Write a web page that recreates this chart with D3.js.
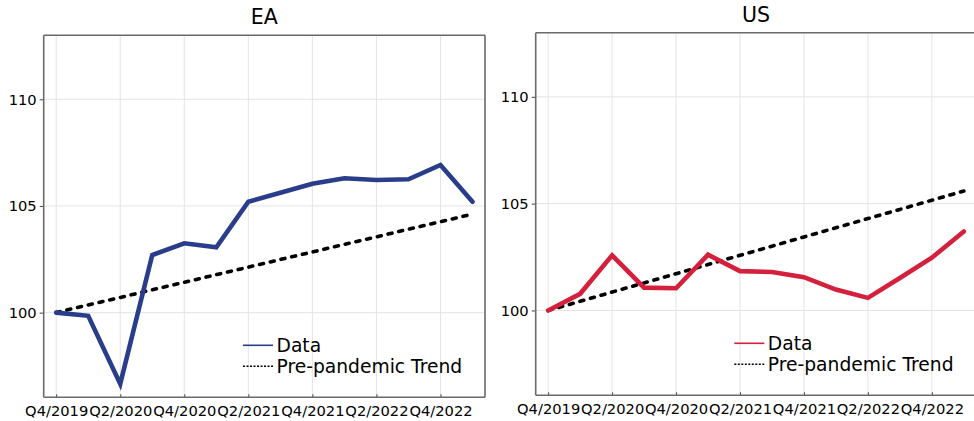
<!DOCTYPE html>
<html><head><meta charset="utf-8">
<script src="https://cdn.jsdelivr.net/npm/d3@7"></script>
<style>
body{margin:0;background:#fff}
svg{display:block;font-family:"DejaVu Sans",sans-serif}
</style>
</head><body>
<svg id="c" width="974" height="421"></svg>
<script>
// ---------- data ----------
const quarters = ["Q4/2019","Q1/2020","Q2/2020","Q3/2020","Q4/2020","Q1/2021","Q2/2021",
                  "Q3/2021","Q4/2021","Q1/2022","Q2/2022","Q3/2022","Q4/2022","Q1/2023"];
const xTickLabels = ["Q4/2019","Q2/2020","Q4/2020","Q2/2021","Q4/2021","Q2/2022","Q4/2022"];
const yTicks = [100, 105, 110];
const yLimits = [96.03, 113.0];
const panelTitles = ["EA", "US"];
const legendLabels = ["Data", "Pre-pandemic Trend"];

const eaData  = [100.00, 99.85, 96.66, 102.70, 103.25, 103.06, 105.20, 105.62, 106.04, 106.30, 106.22, 106.25, 106.92, 105.20];
const eaTrend = [100.00, 100.36, 100.71, 101.07, 101.42, 101.78, 102.13, 102.49, 102.84, 103.20, 103.55, 103.91, 104.26, 104.62];
const usData  = [100.00, 100.78, 102.58, 101.07, 101.04, 102.61, 101.84, 101.80, 101.56, 100.98, 100.59, 101.52, 102.47, 103.70];
const usTrend = [100.00, 100.43, 100.86, 101.29, 101.72, 102.15, 102.58, 103.01, 103.44, 103.87, 104.30, 104.73, 105.16, 105.59];

// ---------- drawing ----------
const svg = d3.select("#c");

function panel(cfg) {
  const {left, right, top, bottom, title, titleY, data, trend, color, boxRight} = cfg;
  const pad = (quarters.length - 1) * 0.03;
  const x = d3.scaleLinear().domain([-pad, quarters.length - 1 + pad]).range([left, right]);
  const y = d3.scaleLinear().domain(yLimits).range([bottom, top]);
  const g = svg.append("g");
  const xt = xTickLabels.map(l => quarters.indexOf(l));

  // grid
  g.append("g").selectAll("line").data(xt).join("line")
    .attr("x1", d => x(d)).attr("x2", d => x(d)).attr("y1", top).attr("y2", bottom)
    .attr("stroke", "#e4e4e4").attr("stroke-width", 1);
  g.append("g").selectAll("line").data(yTicks).join("line")
    .attr("x1", left).attr("x2", right).attr("y1", d => y(d)).attr("y2", d => y(d))
    .attr("stroke", "#e4e4e4").attr("stroke-width", 1);

  // axes
  const xa = g.append("g").attr("transform", `translate(0,${bottom})`)
    .call(d3.axisBottom(x).tickValues(xt).tickFormat(i => quarters[i]).tickSizeInner(-3).tickSizeOuter(0).tickPadding(8));
  const ya = g.append("g").attr("transform", `translate(${left},0)`)
    .call(d3.axisLeft(y).tickValues(yTicks).tickSizeInner(4).tickSizeOuter(0).tickPadding(3));
  [xa, ya].forEach(a => {
    a.select(".domain").remove();
    a.selectAll(".tick line").attr("stroke", "#444").attr("stroke-width", 1);
    a.selectAll(".tick text").attr("fill", "#000").style("font-size", "14.7px")
      .style("font-family", '"DejaVu Sans",sans-serif');
  });

  // frame
  const fc = "#6a6a6a", fw = 1.6;
  g.append("line").attr("x1", left).attr("x2", left).attr("y1", top).attr("y2", bottom).attr("stroke", fc).attr("stroke-width", fw);
  g.append("line").attr("x1", left).attr("x2", right).attr("y1", bottom).attr("y2", bottom).attr("stroke", fc).attr("stroke-width", fw);
  g.append("line").attr("x1", left).attr("x2", right).attr("y1", top).attr("y2", top).attr("stroke", fc).attr("stroke-width", fw);
  if (boxRight) g.append("line").attr("x1", right).attr("x2", right).attr("y1", top).attr("y2", bottom).attr("stroke", fc).attr("stroke-width", fw);

  // lines
  const line = d3.line().x((d, i) => x(i)).y(d => y(d));
  g.append("path").datum(trend).attr("d", line).attr("fill", "none")
    .attr("stroke", "#000").attr("stroke-width", 3.6).attr("stroke-dasharray", "4,7").attr("stroke-linecap", "round");
  g.append("path").datum(data).attr("d", line).attr("fill", "none")
    .attr("stroke", color).attr("stroke-width", 4.6).attr("stroke-linejoin", "miter").attr("stroke-linecap", "round");

  // title
  g.append("text").attr("x", (left + right) / 2).attr("y", titleY).attr("text-anchor", "middle")
    .style("font-size", "20.5px").attr("fill", "#000").text(title);

  // legend
  const lx = right - 242, ly = bottom - 52;
  g.append("line").attr("x1", lx).attr("x2", lx + 30).attr("y1", ly).attr("y2", ly)
    .attr("stroke", color).attr("stroke-width", 1.6);
  g.append("line").attr("x1", lx).attr("x2", lx + 30).attr("y1", ly + 21).attr("y2", ly + 21)
    .attr("stroke", "#000").attr("stroke-width", 1.6).attr("stroke-dasharray", "2,1.5");
  g.append("text").attr("x", lx + 33.5).attr("y", ly + 6.7).style("font-size", "18.7px").attr("fill", "#000").text(legendLabels[0]);
  g.append("text").attr("x", lx + 33.5).attr("y", ly + 27.7).style("font-size", "18.7px").attr("fill", "#000").text(legendLabels[1]);
}

panel({left: 43.7, right: 485, top: 35.3, bottom: 397.3, title: panelTitles[0], titleY: 24,
       data: eaData, trend: eaTrend, color: "#2a3d8a", boxRight: true});
panel({left: 535.7, right: 976.3, top: 32.7, bottom: 395.3, title: panelTitles[1], titleY: 21.7,
       data: usData, trend: usTrend, color: "#d41f3d", boxRight: true});
</script>
</body></html>
